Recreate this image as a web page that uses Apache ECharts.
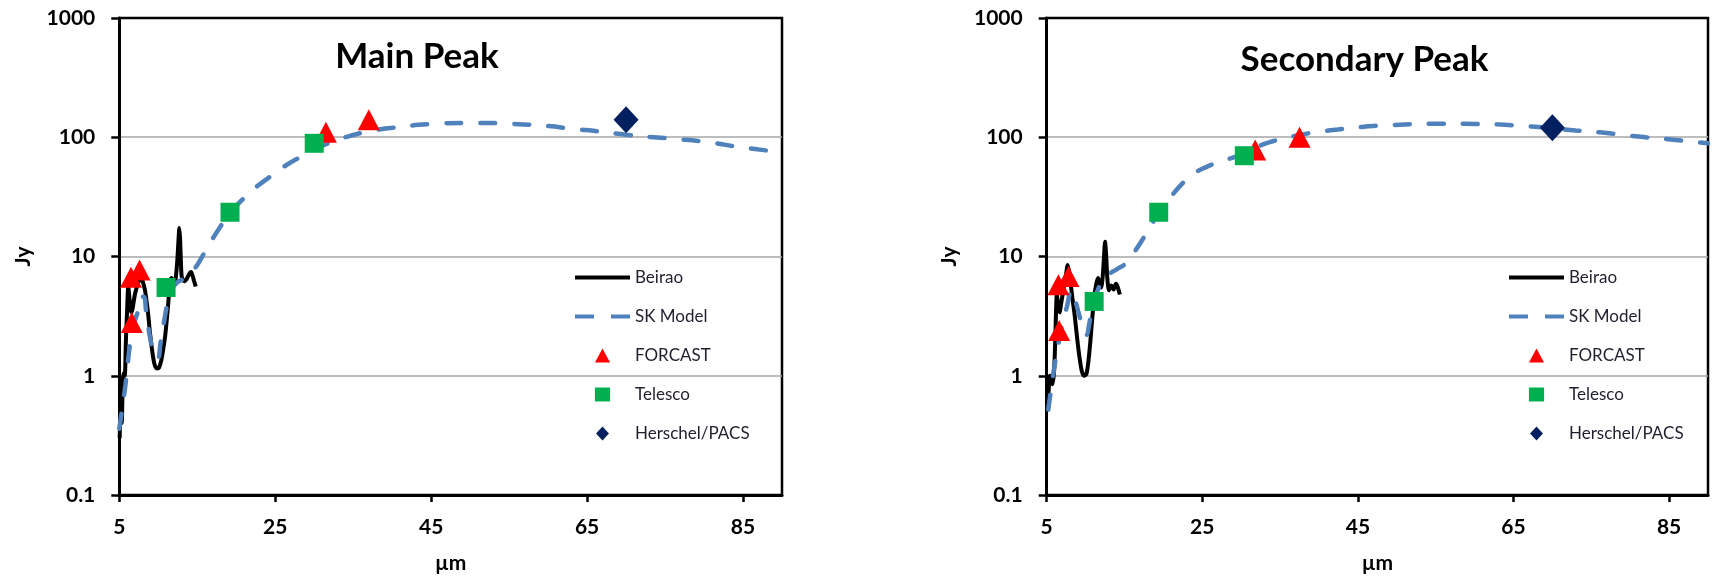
<!DOCTYPE html>
<html>
<head>
<meta charset="utf-8">
<script src="https://cdn.jsdelivr.net/npm/echarts@6/dist/echarts.min.js"></script>
<style>
  html, body { margin: 0; padding: 0; background: #fff; }
  #chart { width: 1715px; height: 580px; }
</style>
</head>
<body>
<div id="chart"></div>
<script>
// Axis ticks
const xTicks = [5, 25, 45, 65, 85];
const yTicks = [0.1, 1, 10, 100, 1000];
const yTickLabels = ['0.1', '1', '10', '100', '1000'];

const seriesNames = ['Beirao', 'SK Model', 'FORCAST', 'Telesco', 'Herschel/PACS'];
const panelTitles = ['Main Peak', 'Secondary Peak'];

// Main peak: [wavelength (µm), flux (Jy)]
const mainBeirao = [
  [5.05, 0.3], [5.15, 0.5], [5.3, 0.4], [5.45, 0.9], [5.55, 1.05], [5.7, 1.0],
  [5.85, 2.0], [6.0, 3.5], [6.15, 5.6], [6.3, 4.5], [6.45, 3.6], [6.6, 3.4],
  [6.8, 4.0], [7.0, 4.8], [7.2, 5.4], [7.5, 6.2], [7.8, 6.6], [8.0, 6.2],
  [8.3, 5.2], [8.5, 4.2], [8.7, 3.3], [8.9, 2.4], [9.15, 1.75], [9.4, 1.35],
  [9.6, 1.2], [9.85, 1.15], [10.1, 1.17], [10.4, 1.36], [10.65, 1.7], [10.9, 2.2],
  [11.1, 3.0], [11.3, 4.2], [11.5, 6.3], [11.7, 6.6], [11.9, 6.0], [12.1, 5.9],
  [12.3, 7.2], [12.45, 9.5], [12.6, 14], [12.7, 17.3], [12.8, 14], [12.9, 9],
  [13.0, 6.8], [13.2, 6.3], [13.4, 6.2], [13.7, 6.6], [14.0, 7.2], [14.2, 7.4],
  [14.4, 6.9], [14.6, 6.2], [14.8, 5.6]
];
const mainModel = [
  [5, 0.36], [5.4, 0.55], [5.8, 0.85], [6.1, 1.3], [6.4, 1.9], [6.7, 2.5],
  [7.0, 2.9], [7.4, 3.5], [7.8, 4.6], [8.1, 4.6], [8.5, 3.2], [9.0, 2.0],
  [9.5, 1.45], [9.9, 1.4], [10.3, 1.9], [10.8, 3.0], [11.3, 4.4], [11.8, 5.4],
  [12.5, 6.1], [13.3, 6.5], [14.0, 7.0], [15.0, 8.5], [16.0, 11], [17.5, 16],
  [19.2, 23], [21, 31], [22.5, 38], [24, 45], [26, 56], [28.5, 70], [30, 79],
  [32, 90], [34, 100], [37, 112], [40, 120], [45, 129], [50, 132], [55, 130],
  [60, 124], [63, 118], [67, 111], [70, 105], [76, 97], [80, 92], [85, 82], [90, 75]
];
const mainForcast = [[6.5, 6.7], [7.6, 7.7], [6.6, 2.8], [31.5, 110], [37, 140]];
const mainTelesco = [[11.0, 5.5], [19.2, 23.5], [30.0, 89]];
const mainPacs = [[70, 140]];

// Secondary peak: [wavelength (µm), flux (Jy)]
const secBeirao = [
  [5.1, 0.55], [5.25, 0.75], [5.4, 1.0], [5.55, 0.95], [5.75, 0.85], [5.95, 1.1],
  [6.1, 2.0], [6.2, 3.5], [6.3, 4.8], [6.45, 4.0], [6.65, 3.4], [6.9, 4.2],
  [7.2, 5.5], [7.5, 7.2], [7.7, 8.5], [7.9, 7.3], [8.1, 5.8], [8.3, 4.5],
  [8.6, 3.2], [8.9, 2.1], [9.2, 1.45], [9.5, 1.1], [9.8, 1.0], [10.1, 1.03],
  [10.35, 1.3], [10.6, 1.9], [10.85, 3.0], [11.1, 4.5], [11.35, 5.8], [11.6, 6.6],
  [11.8, 6.0], [12.0, 5.5], [12.2, 6.8], [12.35, 9.5], [12.5, 13.3], [12.65, 10],
  [12.8, 6.5], [13.0, 5.2], [13.3, 5.7], [13.6, 5.3], [13.9, 5.9], [14.1, 5.6],
  [14.4, 4.8]
];
const secModel = [
  [5.2, 0.52], [5.6, 0.8], [6.0, 1.2], [6.6, 2.0], [7.1, 2.9], [7.6, 3.8],
  [8.2, 5.2], [8.7, 4.2], [9.2, 3.2], [9.7, 2.5], [10.1, 2.2], [10.5, 2.8],
  [11.0, 4.0], [11.5, 5.1], [12.2, 6.2], [13, 7.1], [14, 7.8], [15.2, 8.8],
  [16.3, 11], [17.5, 14.5], [19.7, 25], [21, 32], [22.6, 42], [24, 50],
  [25.7, 57], [27.5, 63], [29.6, 70], [32.8, 87], [35, 96], [37.3, 104],
  [40, 111], [42.4, 116], [45.5, 122], [48.7, 126], [55.1, 130], [61.5, 129],
  [64, 127], [66.6, 124], [70, 119], [73, 114], [76.1, 110], [79.4, 104],
  [82, 100], [85.8, 95], [90, 89]
];
const secForcast = [[6.5, 5.8], [7.8, 6.8], [6.6, 2.4], [31.8, 78], [37.5, 100]];
const secTelesco = [[11.1, 4.2], [19.4, 23.5], [30.4, 70]];
const secPacs = [[70, 120]];

const panels = [
  { beirao: mainBeirao, model: mainModel, forcast: mainForcast, telesco: mainTelesco, pacs: mainPacs },
  { beirao: secBeirao, model: secModel, forcast: secForcast, telesco: secTelesco, pacs: secPacs }
];

// Layout of the two plot areas
const gridLeft = [119.3, 1046.7];
const gridWidth = [662.7, 661.3];
const legendLeft = [570, 1504];
const titlePos = [[417, 57], [1364.5, 60]];
const yNameGap = [86, 87];

const FONT = 'Lato, "Open Sans", sans-serif';

// Legend glyphs: solid bar, two dashes, and the three marker shapes
const legendIcons = [
  'path://M0,0H55V4H0Z',
  'path://M0,0H19V4H0ZM36,0H55V4H36Z',
  'path://M7,0L14,13L0,13Z',
  'path://M0,0H13V12H0Z',
  'path://M6,0L12,6.5L6,13L0,6.5Z'
];

const grids = gridLeft.map((l, i) => ({
  left: l, top: 18, width: gridWidth[i], height: 477,
  show: true, borderColor: '#000', borderWidth: 2.5, backgroundColor: 'transparent'
}));

const xAxes = gridLeft.map((_, i) => ({
  type: 'value', gridIndex: i, min: 5, max: 90,
  axisLine: { show: true, onZero: false, lineStyle: { color: '#000', width: 3 } },
  axisTick: { show: true, customValues: xTicks, length: 7, lineStyle: { color: '#000', width: 2.5 } },
  axisLabel: { customValues: xTicks, margin: 22, fontFamily: FONT, fontWeight: 'bold', fontSize: 21, color: '#000' },
  splitLine: { show: false },
  name: 'µm', nameLocation: 'middle', nameGap: 58,
  nameTextStyle: { fontFamily: FONT, fontWeight: 'bold', fontSize: 21, color: '#000' }
}));

const yAxes = gridLeft.map((_, i) => ({
  type: 'log', logBase: 10, gridIndex: i, min: 0.1, max: 1000,
  axisLine: { show: true, onZero: false, lineStyle: { color: '#000', width: 3 } },
  axisTick: { show: true, length: 8, lineStyle: { color: '#000', width: 2.5 } },
  axisLabel: {
    margin: 24, fontFamily: FONT, fontWeight: 'bold', fontSize: 21, color: '#000',
    formatter: v => {
      let best = 0;
      yTicks.forEach((t, k) => {
        if (Math.abs(Math.log10(t) - Math.log10(v)) < Math.abs(Math.log10(yTicks[best]) - Math.log10(v))) best = k;
      });
      return yTickLabels[best];
    }
  },
  splitLine: { show: true, showMinLine: false, showMaxLine: false, lineStyle: { color: '#a6a6a6', width: 1.5 } },
  name: 'Jy', nameLocation: 'middle', nameGap: yNameGap[i], nameRotate: 90,
  nameTextStyle: { fontFamily: FONT, fontWeight: 'bold', fontSize: 21, color: '#000' }
}));

const series = [];
panels.forEach((p, i) => {
  series.push({
    name: seriesNames[0], type: 'line', xAxisIndex: i, yAxisIndex: i,
    data: p.beirao, symbol: 'none', showSymbol: false, smooth: 0.25,
    lineStyle: { color: '#000', width: 4 }, itemStyle: { color: '#000' }, z: 2
  });
  series.push({
    name: seriesNames[1], type: 'line', xAxisIndex: i, yAxisIndex: i,
    data: p.model, symbol: 'none', showSymbol: false, smooth: true,
    lineStyle: { color: '#4F81BD', width: 4.5, type: [15, 19], cap: 'round' },
    itemStyle: { color: '#4F81BD' }, z: 3
  });
  series.push({
    name: seriesNames[2], type: 'scatter', xAxisIndex: i, yAxisIndex: i,
    data: p.forcast, symbol: 'triangle', symbolSize: [22, 21],
    itemStyle: { color: '#FF0000', opacity: 1 }, z: 4
  });
  series.push({
    name: seriesNames[3], type: 'scatter', xAxisIndex: i, yAxisIndex: i,
    data: p.telesco, symbol: 'rect', symbolSize: 19,
    itemStyle: { color: '#00B050', opacity: 1 }, z: 4
  });
  series.push({
    name: seriesNames[4], type: 'scatter', xAxisIndex: i, yAxisIndex: i,
    data: p.pacs, symbol: 'diamond', symbolSize: [25, 27],
    itemStyle: { color: '#002060', opacity: 1 }, z: 4
  });
});

const legends = legendLeft.map(l => ({
  data: seriesNames.map((n, k) => ({ name: n, icon: legendIcons[k] })),
  orient: 'vertical', left: l, top: 264, symbolKeepAspect: true,
  itemWidth: 55, itemHeight: 14, itemGap: 22, selectedMode: false,
  textStyle: { fontFamily: FONT, fontSize: 17, color: '#1f1f2e', lineHeight: 16 }
}));

const titles = panelTitles.map((t, i) => ({
  type: 'text', x: titlePos[i][0], y: titlePos[i][1], z: 10,
  style: {
    text: t, align: 'center', verticalAlign: 'middle',
    font: 'bold 35px ' + FONT, fill: '#000'
  }
}));

const chart = echarts.init(document.getElementById('chart'), null, { renderer: 'canvas' });
chart.setOption({
  animation: false,
  backgroundColor: '#fff',
  grid: grids,
  xAxis: xAxes,
  yAxis: yAxes,
  legend: legends,
  graphic: titles,
  series: series
});
</script>
</body>
</html>
